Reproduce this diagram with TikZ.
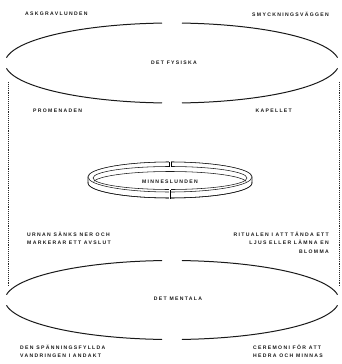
\documentclass[tikz,border=0pt]{standalone}
\usepackage{fontspec}
\newfontfamily\lblfont[LetterSpace=26]{Liberation Sans}
\newcommand\earc[6]{\draw[stroke] plot[domain=#5:#6, samples=60, variable=\t] ({#1+#3*cos(\t)}, {#2+#4*sin(\t)});}
\begin{document}
\begin{tikzpicture}[x=1pt,y=-1pt,
  stroke/.style={line width=1pt, line cap=round, black!90},
  lbl/.style={inner sep=0pt, font=\lblfont\bfseries\fontsize{5.1}{8.7}\selectfont, text=black!90},
  ring/.style={line width=0.55pt, black!90, fill=white},
  dots/.style={line width=1pt, dash pattern=on 1pt off 0.9pt, black!85}]
\useasboundingbox (0,0) rectangle (342,364);
% upper ellipse (det fysiska)
\earc{172}{63}{167}{40}{188}{266.5}
\earc{172}{63}{167}{40}{273.5}{352}
\earc{172}{63}{167}{40}{8}{86.5}
\earc{172}{63}{167}{40}{93.5}{172}
% lower ellipse (det mentala)
\earc{172}{300}{167}{39.5}{188}{266.5}
\earc{172}{300}{167}{39.5}{273.5}{352}
\earc{172}{300}{167}{39.5}{8}{86.5}
\earc{172}{300}{167}{39.5}{93.5}{172}
% dotted verticals
\coordinate (lt) at (8,82); \coordinate (lb) at (8,286);
\coordinate (rt) at (339,82); \coordinate (rb) at (339,286);
\draw[dots] (lt) -- (lb);
\draw[dots] (rt) -- (rb);
% ring (minneslunden)
\draw[ring] plot[domain=0:180, samples=60, variable=\t] ({170+82*cos(\t)}, {183+15*sin(\t)})
  -- plot[domain=180:360, samples=60, variable=\t] ({170+82*cos(\t)}, {177+15*sin(\t)}) -- cycle;
\draw[ring] (170,177) ellipse [x radius=82, y radius=-15];
\draw[ring] (170,178) ellipse [x radius=77, y radius=-11.5];
\draw[line width=0.55pt, black!90] plot[domain=188:352, samples=60, variable=\t] ({170+77*cos(\t)}, {183+11.5*sin(\t)});
\draw[line width=0.55pt, black!90] plot[domain=-3:183, samples=60, variable=\t] ({170+82*cos(\t)}, {183+15*sin(\t)});
\fill[white] (168.8,161) rectangle (171.2,167.5);
\fill[white] (168.8,189) rectangle (171.2,199);
\draw[line width=0.55pt] (168.8,162) -- (168.8,167) (171.2,162) -- (171.2,167);
\draw[line width=0.8pt] (170,190) -- (170,198.5);
% labels
\node[lbl, anchor=west] (ask) at (25,14) {ASKGRAVLUNDEN};
\node[lbl, anchor=east] (smy) at (329,14) {SMYCKNINGSVÄGGEN};
\node[lbl] (fys) at (174,63) {DET FYSISKA};
\node[lbl, anchor=west] (pro) at (33,111) {PROMENADEN};
\node[lbl, anchor=east] (kap) at (292,111) {KAPELLET};
\node[lbl] (min) at (170,181.5) {MINNESLUNDEN};
\node[lbl, anchor=north west, align=left] (urn) at (27,231.5) {URNAN SÄNKS NER OCH\\MARKERAR ETT AVSLUT};
\node[lbl, anchor=north east, align=right] (rit) at (329,231.5) {RITUALEN I ATT TÄNDA ETT\\LJUS ELLER LÄMNA EN\\BLOMMA};
\node[lbl] (men) at (178,299) {DET MENTALA};
\node[lbl, anchor=north west, align=left] (den) at (20,344.5) {DEN SPÄNNINGSFYLLDA\\VANDRINGEN I ANDAKT};
\node[lbl, anchor=north west, align=left] (cer) at (253,344.5) {CEREMONI FÖR ATT\\HEDRA OCH MINNAS};
\end{tikzpicture}
\end{document}
